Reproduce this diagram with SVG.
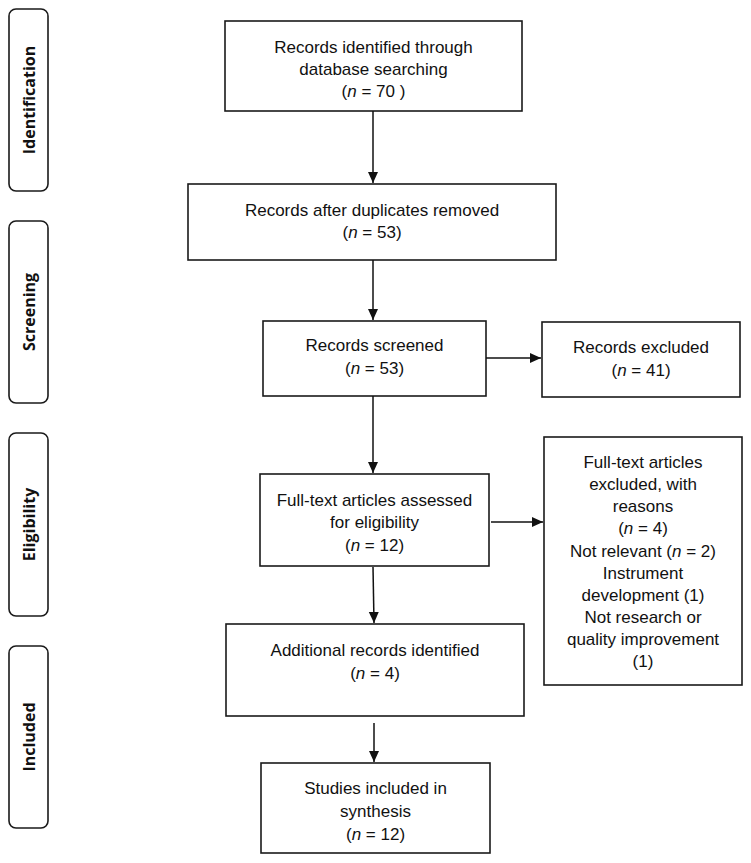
<svg xmlns="http://www.w3.org/2000/svg" width="751" height="863" viewBox="0 0 751 863">
<style>
.box{fill:#fff;stroke:#1a1a1a;stroke-width:1.6}
.stage{fill:#fff;stroke:#1a1a1a;stroke-width:1.6}
.t{font-family:"Liberation Sans",Arial,sans-serif;font-size:17px;fill:#111;text-anchor:middle}
.lab{font-family:"Open Sans","DejaVu Sans",sans-serif;font-size:16px;font-weight:bold;fill:#111;text-anchor:middle}
.i{font-style:italic}
.c{stroke:#111;stroke-width:1.5;fill:none;marker-end:url(#ah)}
</style>
<defs>
<marker id="ah" markerWidth="12" markerHeight="12" refX="11" refY="6" orient="auto" markerUnits="userSpaceOnUse">
<path d="M0,1 L11,6 L0,11 Z" fill="#111"/>
</marker>
</defs>
<rect width="751" height="863" fill="#fff"/>
<g id="stage-identification">
<rect class="stage" x="9" y="9" width="39" height="182" rx="7"/>
<text class="lab" transform="translate(34.5,100) rotate(-90)">Identification</text>
</g>
<g id="stage-screening">
<rect class="stage" x="9" y="221" width="39" height="182" rx="7"/>
<text class="lab" transform="translate(34.5,312) rotate(-90)">Screening</text>
</g>
<g id="stage-eligibility">
<rect class="stage" x="9" y="433" width="39" height="183" rx="7"/>
<text class="lab" transform="translate(34.5,524.5) rotate(-90)">Eligibility</text>
</g>
<g id="stage-included">
<rect class="stage" x="9" y="646" width="39" height="182" rx="7"/>
<text class="lab" transform="translate(34.5,737) rotate(-90)">Included</text>
</g>
<g id="identified">
<rect class="box" x="225" y="21" width="297" height="90"/>
<text class="t" x="373.5" y="53">Records identified through</text>
<text class="t" x="373.5" y="75">database searching</text>
<text class="t" x="373.5" y="97">(<tspan class="i">n</tspan> = 70 )</text>
</g>
<g id="deduplicated">
<rect class="box" x="188" y="184" width="368" height="76"/>
<text class="t" x="372" y="216">Records after duplicates removed</text>
<text class="t" x="372" y="238">(<tspan class="i">n</tspan> = 53)</text>
</g>
<g id="screened">
<rect class="box" x="263" y="321" width="223" height="75"/>
<text class="t" x="374.5" y="351">Records screened</text>
<text class="t" x="374.5" y="374">(<tspan class="i">n</tspan> = 53)</text>
</g>
<g id="excluded">
<rect class="box" x="542" y="322" width="198" height="75"/>
<text class="t" x="641" y="353">Records excluded</text>
<text class="t" x="641" y="376">(<tspan class="i">n</tspan> = 41)</text>
</g>
<g id="fulltext">
<rect class="box" x="260" y="474" width="229" height="92"/>
<text class="t" x="374.5" y="506">Full-text articles assessed</text>
<text class="t" x="374.5" y="528">for eligibility</text>
<text class="t" x="374.5" y="551">(<tspan class="i">n</tspan> = 12)</text>
</g>
<g id="fulltext-excluded">
<rect class="box" x="544" y="437" width="198" height="248"/>
<text class="t" x="643" y="468">Full-text articles</text>
<text class="t" x="643" y="490">excluded, with</text>
<text class="t" x="643" y="512">reasons</text>
<text class="t" x="643" y="534">(<tspan class="i">n</tspan> = 4)</text>
<text class="t" x="643" y="557">Not relevant (<tspan class="i">n</tspan> = 2)</text>
<text class="t" x="643" y="579">Instrument</text>
<text class="t" x="643" y="601">development (1)</text>
<text class="t" x="643" y="623">Not research or</text>
<text class="t" x="643" y="645">quality improvement</text>
<text class="t" x="643" y="667">(1)</text>
</g>
<g id="additional">
<rect class="box" x="226" y="624" width="298" height="92"/>
<text class="t" x="375" y="656">Additional records identified</text>
<text class="t" x="375" y="679">(<tspan class="i">n</tspan> = 4)</text>
</g>
<g id="included">
<rect class="box" x="261" y="763" width="229" height="90"/>
<text class="t" x="375.5" y="794">Studies included in</text>
<text class="t" x="375.5" y="817">synthesis</text>
<text class="t" x="375.5" y="840">(<tspan class="i">n</tspan> = 12)</text>
</g>
<g id="connectors">
<line class="c" x1="373" y1="111" x2="373" y2="183"/>
<line class="c" x1="373" y1="260" x2="373" y2="320"/>
<line class="c" x1="486" y1="358" x2="541" y2="358"/>
<line class="c" x1="373" y1="396" x2="373" y2="473"/>
<line class="c" x1="491" y1="522" x2="543" y2="522"/>
<line class="c" x1="373" y1="567" x2="374" y2="623"/>
<line class="c" x1="374" y1="723" x2="374" y2="762"/>
</g>
</svg>
